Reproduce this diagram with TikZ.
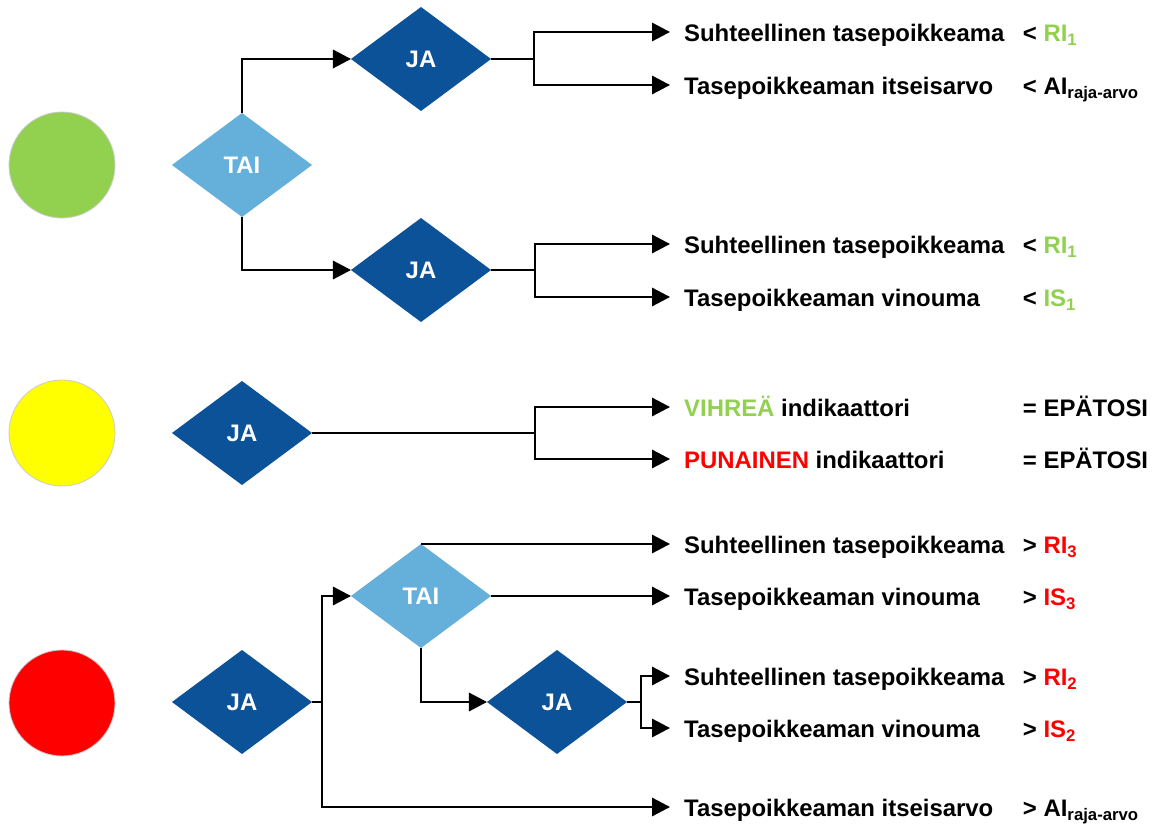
\documentclass[tikz,border=0pt]{standalone}
\usepackage{fontspec}
\setmainfont{Liberation Sans}
\usetikzlibrary{arrows.meta,positioning,shapes.geometric}
\definecolor{jablue}{HTML}{0B5299}
\definecolor{taiblue}{HTML}{65AFDB}
\definecolor{okgreen}{HTML}{92D050}
\definecolor{lampyellow}{HTML}{FFFF00}

\begin{document}
\begin{tikzpicture}[x=0.025cm,y=-0.025cm,
  font=\fontsize{17}{20}\selectfont\bfseries,
  >={Triangle[length=0.45cm,width=0.46cm]},
  line width=1.4pt,
  light/.style={circle,draw=black!20,line width=0.6pt,minimum size=2.65cm},
  gate/.style={diamond,minimum width=3.5cm,minimum height=2.6cm,inner sep=0pt,outer sep=0pt,text=white},
  ja/.style={gate,fill=jablue},
  tai/.style={gate,fill=taiblue},
  cond/.style={anchor=west,inner xsep=0.33cm,inner ysep=0pt,text height=18pt,text depth=4pt},
  limit/.style={cond,inner xsep=0pt}]
  \useasboundingbox (0,0) rectangle (1160,827);

  \node[light,fill=okgreen] (go) at (62,165) {};
  \node[light,fill=lampyellow] (wait) at (62,433) {};
  \node[light,fill=red] (stop) at (62,703) {};

  % vihrea
  \node[tai] (tai_1) at (242,165) {TAI};
  \node[ja] (ja_1) at (421,59) {JA};
  \node[ja] (ja_2) at (421,270) {JA};
  \coordinate (b_1) at (534,59);
  \coordinate (b_2) at (535,270);
  \node[cond] (g_1) at (670,32) {Suhteellinen tasepoikkeama};
  \node[cond] (g_2) at (670,85) {Tasepoikkeaman itseisarvo};
  \node[cond] (g_3) at (670,244) {Suhteellinen tasepoikkeama};
  \node[cond] (g_4) at (670,297) {Tasepoikkeaman vinouma};
  \node[limit] (gl_1) at (1022,32) {< \textcolor{okgreen}{RI\textsubscript{1}}};
  \node[limit] (gl_2) at (1022,85) {< AI\textsubscript{raja-arvo}};
  \node[limit] (gl_3) at (1022,244) {< \textcolor{okgreen}{RI\textsubscript{1}}};
  \node[limit] (gl_4) at (1022,297) {< \textcolor{okgreen}{IS\textsubscript{1}}};

  \draw[->] (tai_1.north) |- (ja_1.west);
  \draw[->] (tai_1.south) |- (ja_2.west);
  \draw (ja_1.east) -- (b_1);
  \draw[->] (b_1) |- (g_1.west);
  \draw[->] (b_1) |- (g_2.west);
  \draw (ja_2.east) -- (b_2);
  \draw[->] (b_2) |- (g_3.west);
  \draw[->] (b_2) |- (g_4.west);

  % keltainen
  \node[ja] (ja_3) at (242,433) {JA};
  \coordinate (b_3) at (535,433);
  \node[cond] (y_1) at (670,407) {\textcolor{okgreen}{VIHREÄ} indikaattori};
  \node[cond] (y_2) at (670,459) {\textcolor{red}{PUNAINEN} indikaattori};
  \node[limit] (yl_1) at (1022,407) {= EPÄTOSI};
  \node[limit] (yl_2) at (1022,459) {= EPÄTOSI};

  \draw (ja_3.east) -- (b_3);
  \draw[->] (b_3) |- (y_1.west);
  \draw[->] (b_3) |- (y_2.west);

  % punainen
  \node[ja] (ja_4) at (242,702) {JA};
  \node[tai] (tai_2) at (421,596) {TAI};
  \node[ja] (ja_5) at (557,702) {JA};
  \coordinate (b_4) at (322,702);
  \coordinate (b_5) at (641,702);
  \node[cond] (r_1) at (670,544) {Suhteellinen tasepoikkeama};
  \node[cond] (r_2) at (670,596) {Tasepoikkeaman vinouma};
  \node[cond] (r_3) at (670,676) {Suhteellinen tasepoikkeama};
  \node[cond] (r_4) at (670,728) {Tasepoikkeaman vinouma};
  \node[cond] (r_5) at (670,807) {Tasepoikkeaman itseisarvo};
  \node[limit] (rl_1) at (1022,544) {> \textcolor{red}{RI\textsubscript{3}}};
  \node[limit] (rl_2) at (1022,596) {> \textcolor{red}{IS\textsubscript{3}}};
  \node[limit] (rl_3) at (1022,676) {> \textcolor{red}{RI\textsubscript{2}}};
  \node[limit] (rl_4) at (1022,728) {> \textcolor{red}{IS\textsubscript{2}}};
  \node[limit] (rl_5) at (1022,807) {> AI\textsubscript{raja-arvo}};

  \draw (ja_4.east) -- (b_4);
  \draw[->] (b_4) |- (tai_2.west);
  \draw[->] (b_4) |- (r_5.west);
  \draw[->] (tai_2.north) -- (r_1.west);
  \draw[->] (tai_2.east) -- (r_2.west);
  \draw[->] (tai_2.south) |- (ja_5.west);
  \draw (ja_5.east) -- (b_5);
  \draw[->] (b_5) |- (r_3.west);
  \draw[->] (b_5) |- (r_4.west);
\end{tikzpicture}
\end{document}
